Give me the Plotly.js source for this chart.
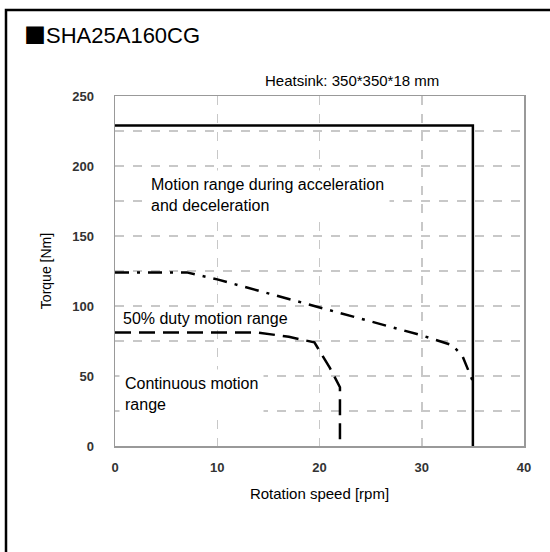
<!DOCTYPE html>
<html>
<head>
<meta charset="utf-8">
<script src="https://cdn.plot.ly/plotly-3.0.1.min.js"></script>
<style>html,body{margin:0;padding:0;background:#fff;}#chart{width:550px;height:552px;}</style>
</head>
<body>
<div id="chart"></div>
<script>
// Data
const accelSpeed = [0, 35, 35];
const accelTorque = [229, 229, 0];
const dutySpeed = [0, 7, 10, 15, 20, 25, 30, 33, 34, 35];
const dutyTorque = [124, 124, 119, 109, 99, 89, 79, 72, 64, 46];
const contSpeed = [0, 14, 17, 19.5, 21, 22, 22];
const contTorque = [81, 81, 78, 74, 56, 42, 0];
const xTickVals = [0, 10, 20, 30, 40];
const xTickText = ['0', '10', '20', '30', '40'];
const yTickVals = [0, 25, 50, 75, 100, 125, 150, 175, 200, 225, 250];
const yTickText = ['0', '', '50', '', '100', '', '150', '', '200', '', '250'];

const lineStyle = {color: '#000', width: 2.5};
const traces = [
  {x: accelSpeed, y: accelTorque, mode: 'lines', line: Object.assign({}, lineStyle), hoverinfo: 'skip'},
  {x: dutySpeed, y: dutyTorque, mode: 'lines', line: Object.assign({dash: '14px,8px,3px,8px'}, lineStyle), hoverinfo: 'skip'},
  {x: contSpeed, y: contTorque, mode: 'lines', line: Object.assign({dash: '16px,8px'}, lineStyle), hoverinfo: 'skip'}
];

const L = 115, R = 26, T = 96, B = 106, W = 550, H = 552;
const pw = W - L - R, ph = H - T - B;
const px = v => (v - L) / pw;
const py = v => (H - B - v) / ph;

const FAM = 'Liberation Sans, Arial, sans-serif';
const tickFont = {family: FAM, size: 13, color: '#333', weight: 'bold'};
const txtFont = {family: FAM, size: 16, color: '#000'};

const layout = {
  width: W, height: H,
  margin: {l: L, r: R, t: T, b: B, pad: 0},
  paper_bgcolor: '#fff', plot_bgcolor: '#fff',
  showlegend: false,
  title: {text: '<span style="font-family:\'Noto Sans CJK JP\'">■</span>SHA25A160CG', x: 24 / W, xref: 'container', xanchor: 'left', y: 1 - 35 / H, yref: 'container', yanchor: 'middle',
    font: {family: FAM, size: 22, color: '#000'}},
  xaxis: {range: [0, 40], tickvals: xTickVals, ticktext: xTickText, tickfont: tickFont, ticklabelstandoff: 9,
    showgrid: true, gridcolor: '#c8c8c8', griddash: 'dash', gridwidth: 1.5,
    showline: true, linecolor: '#999', linewidth: 1.5, mirror: true, zeroline: false, ticks: '', ticklen: 0,
    title: {text: 'Rotation speed [rpm]', font: {family: FAM, size: 15, color: '#000'}, standoff: 14}},
  yaxis: {range: [0, 250], tickvals: yTickVals, ticktext: yTickText, tickfont: tickFont, ticklabelstandoff: 17,
    showgrid: true, gridcolor: '#c8c8c8', griddash: 'dash', gridwidth: 1.5,
    showline: true, linecolor: '#999', linewidth: 1.5, mirror: true, zeroline: false, ticks: '', ticklen: 0,
    title: {text: 'Torque [Nm]', font: {family: FAM, size: 14, color: '#000'}, standoff: 17}},
  annotations: [
    {text: 'Heatsink: 350*350*18 mm', xref: 'paper', yref: 'paper', x: px(352), y: py(81), xanchor: 'center', yanchor: 'middle', showarrow: false,
      font: {family: FAM, size: 15, color: '#000'}},
    {text: 'Motion range during acceleration<br>and deceleration', xref: 'x', yref: 'y', x: 2.9, y: 179, xanchor: 'left', yanchor: 'middle', align: 'left',
      showarrow: false, font: txtFont, bgcolor: '#fff', borderpad: 5},
    {text: '50% duty motion range', xref: 'x', yref: 'y', x: 0.46, y: 91.4, xanchor: 'left', yanchor: 'middle', align: 'left',
      showarrow: false, font: txtFont, bgcolor: '#fff', borderpad: 2},
    {text: 'Continuous motion<br>range', xref: 'x', yref: 'y', x: 0.4, y: 37, xanchor: 'left', yanchor: 'middle', align: 'left',
      showarrow: false, font: txtFont, bgcolor: '#fff', borderpad: 5}
  ],
  shapes: [
    {type: 'rect', xref: 'paper', yref: 'paper', x0: px(6), x1: px(600), y0: py(10), y1: py(600), line: {color: '#000', width: 2.5}, fillcolor: 'rgba(0,0,0,0)', layer: 'above'}
  ]
};

Plotly.newPlot('chart', traces, layout, {staticPlot: true, displayModeBar: false});
</script>
</body>
</html>
